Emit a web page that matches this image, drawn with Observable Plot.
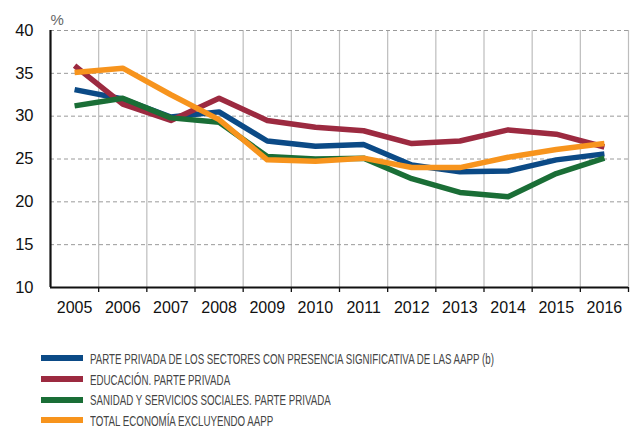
<!DOCTYPE html>
<html>
<head>
<meta charset="utf-8">
<script src="https://cdn.jsdelivr.net/npm/d3@7"></script>
<script src="https://cdn.jsdelivr.net/npm/@observablehq/plot@0.6"></script>
<style>
  html, body { margin: 0; padding: 0; background: #fff; }
  #chart { width: 632px; height: 428px; position: relative; font-family: "Liberation Sans", Arial, sans-serif; }
  .legend { position: absolute; left: 0; top: 348px; }
  .row { display: flex; align-items: center; height: 20.7px; white-space: nowrap; }
  .sw { width: 42px; height: 6px; margin-left: 41px; margin-right: 7px; flex: none; }
  .lab { font-family: "Liberation Sans", Arial, sans-serif; font-size: 15px; line-height: 13px; color: #444; display: inline-block; transform-origin: left center; white-space: nowrap; }
</style>
</head>
<body>
<div id="chart"></div>
<script>
const years = [2005, 2006, 2007, 2008, 2009, 2010, 2011, 2012, 2013, 2014, 2015, 2016];
const seriesNames = [
  "PARTE PRIVADA DE LOS SECTORES CON PRESENCIA SIGNIFICATIVA DE LAS AAPP (b)",
  "EDUCACIÓN. PARTE PRIVADA",
  "SANIDAD Y SERVICIOS SOCIALES. PARTE PRIVADA",
  "TOTAL ECONOMÍA EXCLUYENDO AAPP"
];
const seriesColors = ["#0b4a86", "#9c2a40", "#1a6e36", "#f7941d"];
const sectoresAAPP = [33.1, 32.0, 29.9, 30.5, 27.1, 26.5, 26.7, 24.3, 23.5, 23.6, 24.9, 25.6];
const educacion    = [35.9, 31.4, 29.5, 32.1, 29.5, 28.7, 28.3, 26.8, 27.1, 28.4, 27.9, 26.4];
const sanidad      = [31.2, 32.1, 29.8, 29.3, 25.3, 25.0, 25.1, 22.7, 21.1, 20.6, 23.3, 25.1];
const totalEcon    = [35.1, 35.6, 32.5, 29.6, 24.9, 24.75, 25.1, 24.0, 24.0, 25.2, 26.1, 26.8];
const yTicks = [10, 15, 20, 25, 30, 35, 40];
const unitLabel = "%";

const allSeries = [sectoresAAPP, educacion, sanidad, totalEcon];
const data = allSeries.flatMap((vals, i) => vals.map((v, j) => ({year: years[j], value: v, series: seriesNames[i]})));
const boundaries = [years[0] - 0.5, ...years.map(y => y + 0.5)];
const gridY = yTicks.filter(t => t > yTicks[0]);

const plot = Plot.plot({
  width: 632,
  height: 332,
  marginLeft: 50,
  marginRight: 4,
  marginTop: 30,
  marginBottom: 45,
  style: {fontFamily: "'Liberation Sans', Arial, sans-serif", fontSize: "16px", color: "#111", background: "#fff"},
  x: {domain: [boundaries[0], boundaries[boundaries.length - 1]]},
  y: {domain: [yTicks[0], yTicks[yTicks.length - 1]]},
  color: {domain: seriesNames, range: seriesColors},
  marks: [
    Plot.ruleX(boundaries.slice(1), {stroke: "#bdbdbd", strokeWidth: 1.2}),
    Plot.ruleY(gridY, {stroke: "#9a9a9a", strokeDasharray: "4,3", strokeWidth: 1}),
    Plot.axisX(boundaries.slice(1), {tickSize: 5, tickFormat: () => "", stroke: "#111", strokeWidth: 1.3, label: null}),
    Plot.axisX(years, {tickSize: 0, tickPadding: 14, tickFormat: d => String(d), label: null, fontSize: 16}),
    Plot.axisY(yTicks, {tickSize: 0, tickPadding: 17, label: null, fontSize: 16.5}),
    Plot.ruleY([yTicks[0]], {stroke: "#111", strokeWidth: 2.2}),
    Plot.ruleX([boundaries[0]], {stroke: "#111", strokeWidth: 2.2}),
    Plot.line(data, {x: "year", y: "value", z: "series", stroke: "series", strokeWidth: 5.5, strokeLinecap: "butt", strokeLinejoin: "round"}),
    Plot.text([unitLabel], {frameAnchor: "top-left", dy: -16, dx: 0, textAnchor: "start", fill: "#666", fontSize: 15})
  ]
});
const chart = document.getElementById("chart");
chart.appendChild(plot);

const legend = document.createElement("div");
legend.className = "legend";
const labs = [];
seriesNames.forEach((name, i) => {
  const row = document.createElement("div");
  row.className = "row";
  const sw = document.createElement("div");
  sw.className = "sw";
  sw.style.background = seriesColors[i];
  const lab = document.createElement("span");
  lab.className = "lab";
  lab.textContent = name;
  row.appendChild(sw);
  row.appendChild(lab);
  legend.appendChild(row);
  labs.push(lab);
});
chart.appendChild(legend);
// condensed look: squeeze labels horizontally so the longest spans ~404px
const w0 = labs[0].getBoundingClientRect().width;
const k = 404 / w0;
labs.forEach(l => { l.style.transform = `scaleX(${k})`; });
</script>
</body>
</html>
